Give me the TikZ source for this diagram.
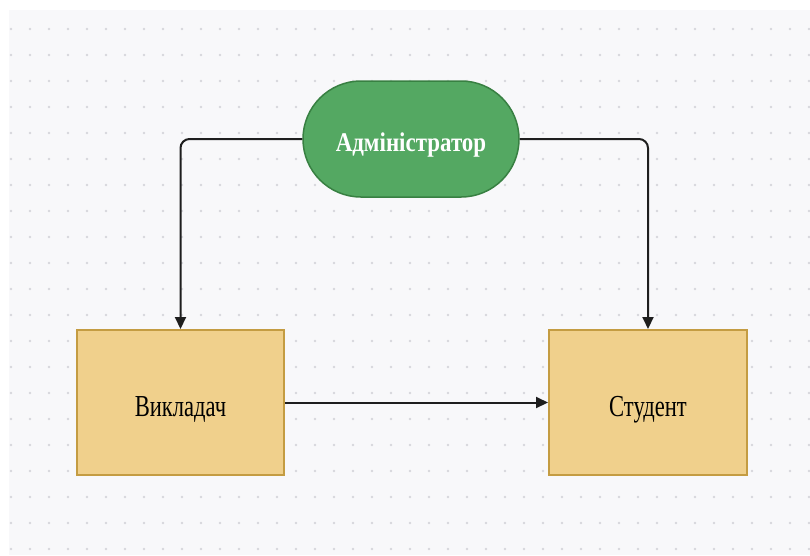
\documentclass[tikz,border=0pt]{standalone}
\usepackage{fontspec}
\setmainfont{Liberation Serif}[FakeStretch=0.74]
\newfontfamily\adminfont{Liberation Serif}[FakeStretch=0.85]
\usepackage{tikz}
\usetikzlibrary{shapes.misc, arrows.meta, positioning}
\definecolor{canvasbg}{RGB}{248, 248, 250}
\definecolor{griddot}{RGB}{214, 214, 220}
\definecolor{adminfill}{RGB}{84, 168, 98}
\definecolor{admindraw}{RGB}{56, 128, 66}
\definecolor{rolefill}{RGB}{240, 208, 140}
\definecolor{roledraw}{RGB}{196, 156, 66}
\definecolor{linkgray}{RGB}{30, 30, 30}

\begin{document}
\begin{tikzpicture}[
    x=1pt, y=1pt,
    admin/.style={rounded rectangle, draw=admindraw, line width=1.5pt, fill=adminfill, minimum width=216pt, minimum height=116pt, inner sep=0pt, text height=24pt, text depth=0pt, text=white, font=\adminfont\fontsize{27}{30}\selectfont\bfseries},
    role/.style={draw=roledraw, line width=2pt, fill=rolefill, minimum height=145pt, inner sep=0pt, text height=27pt, text depth=0pt, font=\fontsize{30.5}{34}\selectfont},
    link/.style={-{Triangle[length=12pt, width=11pt]}, line width=2pt, linkgray, rounded corners=9pt}
]
    % Canvas with dot grid
    \useasboundingbox (0,0) rectangle (810,-555);
    \fill[canvasbg] (9,-10) rectangle (810,-555);
    \foreach \i in {0,...,42}
        \foreach \j in {0,...,20}
            \fill[griddot] ({11+19*\i},{-29-26*\j}) circle (1.3pt);

    % Nodes
    \node[admin] (admin) at (411,-139) {Адміністратор};
    \node[role, minimum width=207pt] (teacher) at (180.5,-402.5) {Викладач};
    \node[role, minimum width=198pt, right=263pt of teacher] (student) {Студент};

    % Arrows
    \draw[link] (admin.west) -| (teacher.north);
    \draw[link] (admin.east) -| (student.north);
    \draw[link] (teacher.east) -- (student.west);
\end{tikzpicture}
\end{document}
